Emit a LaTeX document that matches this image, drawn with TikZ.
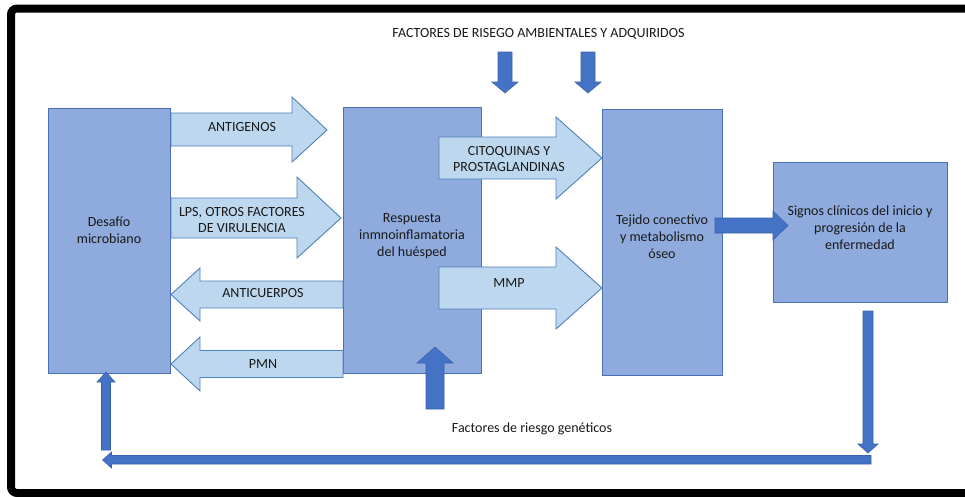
\documentclass[tikz,border=0pt]{standalone}
\usepackage{fontspec}
\setmainfont{Carlito}
\definecolor{boxfill}{HTML}{8FAADC}
\definecolor{boxline}{HTML}{4A6FB5}
\definecolor{lightfill}{HTML}{BDD7EE}
\definecolor{lightline}{HTML}{4F81BD}
\definecolor{darkfill}{HTML}{4472C4}
\definecolor{darkline}{HTML}{3A63AE}
\begin{document}
\begin{tikzpicture}[x=1pt,y=-1pt,
  blockbox/.style={draw=boxline,fill=boxfill,line width=1pt},
  lightarrow/.style={draw=lightline,fill=lightfill,line width=0.9pt},
  darkarrow/.style={draw=darkline,fill=darkfill,line width=0.6pt},
  boxtext/.style={align=center,font=\fontsize{14}{17}\selectfont,text=black!90,inner sep=0pt},
  arrowtext/.style={align=center,font=\fontsize{14}{16}\selectfont,text=black!90,inner sep=0pt},
  plaintext/.style={font=\fontsize{14}{16}\selectfont,text=black!90,inner sep=0pt}]
\useasboundingbox (0,0) rectangle (965,496);
\fill[white] (0,0) rectangle (965,496);
% frame
\draw[line width=8pt,rounded corners=6pt] (11,8.5) rectangle (976,493);
% boxes
\node[blockbox,minimum width=122pt,minimum height=265pt,anchor=north west] (des) at (48,108) {};
\node[blockbox,minimum width=138pt,minimum height=266pt,anchor=north west] (res) at (343,107) {};
\node[blockbox,minimum width=120pt,minimum height=266pt,anchor=north west] (tej) at (602,109) {};
\node[blockbox,minimum width=174pt,minimum height=140pt,anchor=north west] (sig) at (773,162) {};
\node[boxtext] (tdes) at (109,230) {Desafío\\microbiano};
\node[boxtext] (tres) at (412,236) {Respuesta\\inmnoinflamatoria\\del huésped};
\node[boxtext] (ttej) at (662,237) {Tejido conectivo\\y metabolismo\\óseo};
\node[boxtext] (tsig) at (860,228) {Signos clínicos del inicio y\\progresión de la\\enfermedad};
% light block arrows
\draw[lightarrow] (des.east |- 0,113) -- (292,113) -- (292,97) -- (327,130) -- (292,162) -- (292,146) -- (des.east |- 0,146) -- cycle;
\node[arrowtext] (lant) at (242,127) {ANTIGENOS};
\draw[lightarrow] (des.east |- 0,198) -- (297,198) -- (297,177) -- (341,218) -- (297,258) -- (297,238) -- (des.east |- 0,238) -- cycle;
\node[arrowtext] (llps) at (242,220) {LPS, OTROS FACTORES\\DE VIRULENCIA};
\draw[lightarrow] (res.west |- 0,281) -- (200,281) -- (200,268) -- (171,294.5) -- (200,321) -- (200,308) -- (res.west |- 0,308) -- cycle;
\node[arrowtext] (lanti) at (263,293) {ANTICUERPOS};
\draw[lightarrow] (res.west |- 0,350.5) -- (200,350.5) -- (200,337) -- (171,364) -- (200,391) -- (200,377.5) -- (res.west |- 0,377.5) -- cycle;
\node[arrowtext] (lpmn) at (263,364) {PMN};
\draw[lightarrow] (439,137) -- (556,137) -- (556,117) -- (tej.west |- 0,158) -- (556,199) -- (556,179) -- (439,179) -- cycle;
\node[arrowtext] (lcit) at (509,159) {CITOQUINAS Y\\PROSTAGLANDINAS};
\draw[lightarrow] (439,267) -- (556,267) -- (556,247) -- (tej.west |- 0,288) -- (556,329) -- (556,309) -- (439,309) -- cycle;
\node[arrowtext] (lmmp) at (509,283) {MMP};
% dark arrows
\draw[darkarrow] (715,218) -- (773,218) -- (773,211) -- (788,225.5) -- (773,240) -- (773,233) -- (715,233) -- cycle;
\foreach \cx in {505,588}{
  \draw[darkarrow] (\cx-7,52) -- (\cx+7,52) -- (\cx+7,82) -- (\cx+13,82) -- (\cx,93) -- (\cx-13,82) -- (\cx-7,82) -- cycle;
}
\node[plaintext] (tamb) at (538.5,34) {FACTORES DE RISEGO AMBIENTALES Y ADQUIRIDOS};
\draw[darkarrow] (426,409) -- (426,363) -- (417,363) -- (435,347) -- (453,363) -- (444,363) -- (444,409) -- cycle;
\node[plaintext] (tgen) at (532,429) {Factores de riesgo genéticos};
% feedback loop
\draw[darkarrow] (863,311) -- (873,311) -- (873,444) -- (878,444) -- (868,453) -- (858,444) -- (863,444) -- cycle;
\draw[darkarrow] (871,455.5) -- (871,464) -- (111.5,464) -- (111.5,468) -- (102.5,460) -- (111.5,452) -- (111.5,455.5) -- cycle;
\draw[darkarrow] (101.5,450) -- (101.5,382) -- (97,382) -- (106,372) -- (115,382) -- (110.5,382) -- (110.5,450) -- cycle;
\end{tikzpicture}
\end{document}
